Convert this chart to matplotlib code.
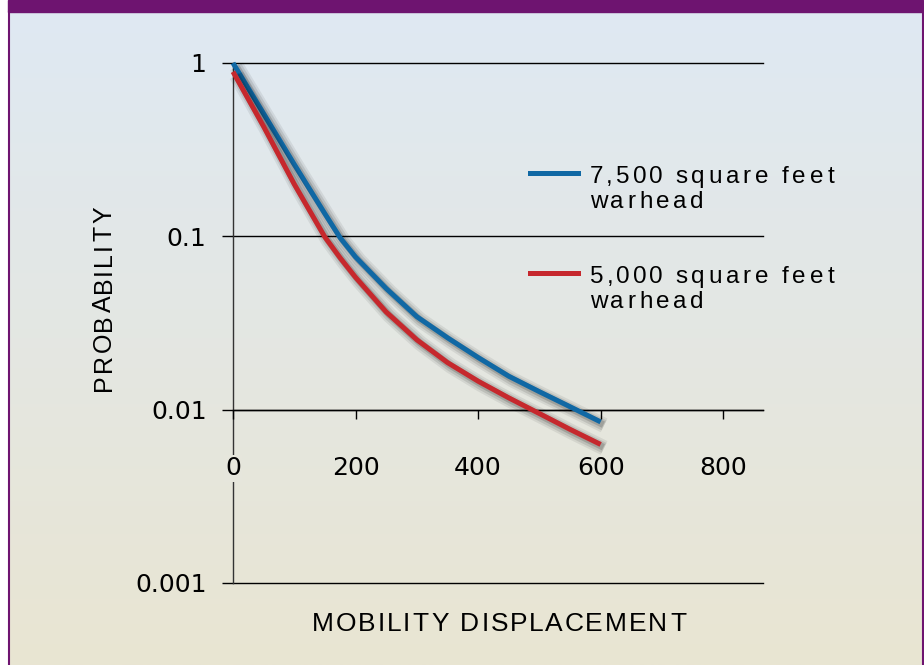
import numpy as np
import matplotlib
matplotlib.use("Agg")
import matplotlib.pyplot as plt
import matplotlib.patheffects as pe
import matplotlib.transforms as mtransforms
from matplotlib.lines import Line2D
from matplotlib.patches import Rectangle
from matplotlib.ticker import NullLocator
from matplotlib.font_manager import FontProperties, findfont, get_font

# data
displacement = [0, 50, 100, 150, 175, 200, 250, 300, 350, 400, 450, 500, 550, 600]
prob_7500 = [1.0, 0.51, 0.26, 0.135, 0.098, 0.076, 0.050, 0.0344, 0.026, 0.020, 0.0156, 0.0127, 0.0104, 0.0085]
prob_5000 = [0.89, 0.43, 0.20, 0.099, 0.075, 0.058, 0.0366, 0.0253, 0.0187, 0.0146, 0.0117, 0.0095, 0.0077, 0.0063]
series_names = [["7,500 square feet", "warhead"], ["5,000 square feet", "warhead"]]
series_colors = ["#1068a4", "#c6282d"]
xticks = [0, 200, 400, 600, 800]
yticks = [1, 0.1, 0.01, 0.001]
ytick_labels = ["1", "0.1", "0.01", "0.001"]

plt.rcParams['font.family'] = ['Liberation Sans', 'DejaVu Sans']

W, H = 924, 665
fig = plt.figure(figsize=(W / 100, H / 100), dpi=100)
fig.patch.set_facecolor("white")


def fx(px):
    return px / W


def fy(py):
    return 1 - py / H


# background gradient panel
top_c = np.array([0xdf, 0xe9, 0xf3]) / 255
bot_c = np.array([0xe9, 0xe5, 0xd2]) / 255
t = np.linspace(0, 1, 256)[:, None]
grad = top_c * (1 - t) + bot_c * t
bg = fig.add_axes([fx(8), 0, fx(923) - fx(8), fy(12)])
bg.imshow(grad[:, None, :], aspect="auto", extent=[0, 1, 0, 1])
bg.axis("off")

purple = "#6e1470"
fig.patches.append(Rectangle((fx(8), fy(12)), fx(923) - fx(8), 12 / H,
                             transform=fig.transFigure, color=purple))
fig.add_artist(Line2D([fx(8.5), fx(8.5)], [0, fy(12)], color=purple, lw=1.5))
fig.add_artist(Line2D([fx(922.5), fx(922.5)], [0, fy(12)], color=purple, lw=1.5))


def spaced_text(x, y, s, size, track, rotation=0, ha="left"):
    # text with extra letter spacing (in pixels), drawn one glyph at a time
    fp = FontProperties(family="Liberation Sans", size=size)
    font = get_font(findfont(fp), hinting_factor=1)
    font.set_size(size, 100)
    adv = [font.load_char(ord(c)).horiAdvance / 64 for c in s]
    total = sum(adv) + track * (len(s) - 1)
    pos = 0 if ha == "left" else -total / 2
    for c, a in zip(s, adv):
        off = pos + a / 2
        if rotation:
            tr = mtransforms.offset_copy(fig.transFigure, fig, x=0, y=off, units="dots")
            fig.text(x, y, c, transform=tr, fontproperties=fp, rotation=rotation,
                     ha="center", va="center")
        else:
            tr = mtransforms.offset_copy(fig.transFigure, fig, x=off, y=0, units="dots")
            fig.text(x, y, c, transform=tr, fontproperties=fp, ha="center", va="baseline")
        pos += a + track


ax = fig.add_axes([fx(233), fy(583), fx(763) - fx(233), (583 - 63) / H])
ax.patch.set_alpha(0)
ax.set_yscale("log")
ax.set_xlim(0, 865)
ax.set_ylim(0.001, 1)

shadow = [pe.SimpleLineShadow(offset=(2.5, -2.5), shadow_color="k", alpha=0.07, linewidth=11),
          pe.SimpleLineShadow(offset=(2.5, -2.5), shadow_color="k", alpha=0.10, linewidth=8),
          pe.SimpleLineShadow(offset=(2, -2), shadow_color="k", alpha=0.16, linewidth=5),
          pe.Normal()]
for vals, col in zip([prob_7500, prob_5000], series_colors):
    ax.plot(displacement, vals, color=col, lw=3.6, solid_capstyle="butt",
            solid_joinstyle="round", clip_on=False, zorder=3, path_effects=shadow)

for s in ["top", "right"]:
    ax.spines[s].set_visible(False)
ax.spines["left"].set_color("#333333")
ax.spines["left"].set_linewidth(1)
ax.spines["bottom"].set_position(("data", 0.01))
ax.spines["bottom"].set_linewidth(1)

ax.set_axisbelow(True)
ax.yaxis.grid(True, color="black", lw=1)
ax.set_yticks(yticks)
ax.set_yticklabels(ytick_labels, family="DejaVu Sans")
ax.yaxis.set_minor_locator(NullLocator())
ax.set_xticks(xticks)
ax.set_xticklabels([str(v) for v in xticks], family="DejaVu Sans")
ax.tick_params(axis="y", length=8, width=1, pad=11, labelsize=18)
ax.tick_params(axis="x", length=6.5, width=1, pad=27, labelsize=18)
ax.xaxis.set_zorder(3)
for gl in ax.get_ygridlines():
    gl.set_clip_on(False)

f0 = (468 - 12) / (H - 12)
ax.get_xticklabels()[0].set_bbox(dict(facecolor=top_c * (1 - f0) + bot_c * f0,
                                      edgecolor="none", pad=1))

# axis titles
spaced_text(fx(499), fy(631), "MOBILITY DISPLACEMENT", 19, 2.3, ha="center")
spaced_text(fx(104), fy(298.5), "PROBABILITY", 18, 1.9, rotation=90, ha="center")

# legend
leg_y = [173, 273]
for names, col, ly in zip(series_names, series_colors, leg_y):
    fig.add_artist(Line2D([fx(530), fx(578)], [fy(ly), fy(ly)], color=col, lw=3.6))
    spaced_text(fx(590), fy(ly + 10), names[0], 17.5, 3.3)
    spaced_text(fx(590), fy(ly + 35), names[1], 17.5, 3.3)

fig.savefig("out.png", dpi=100)
